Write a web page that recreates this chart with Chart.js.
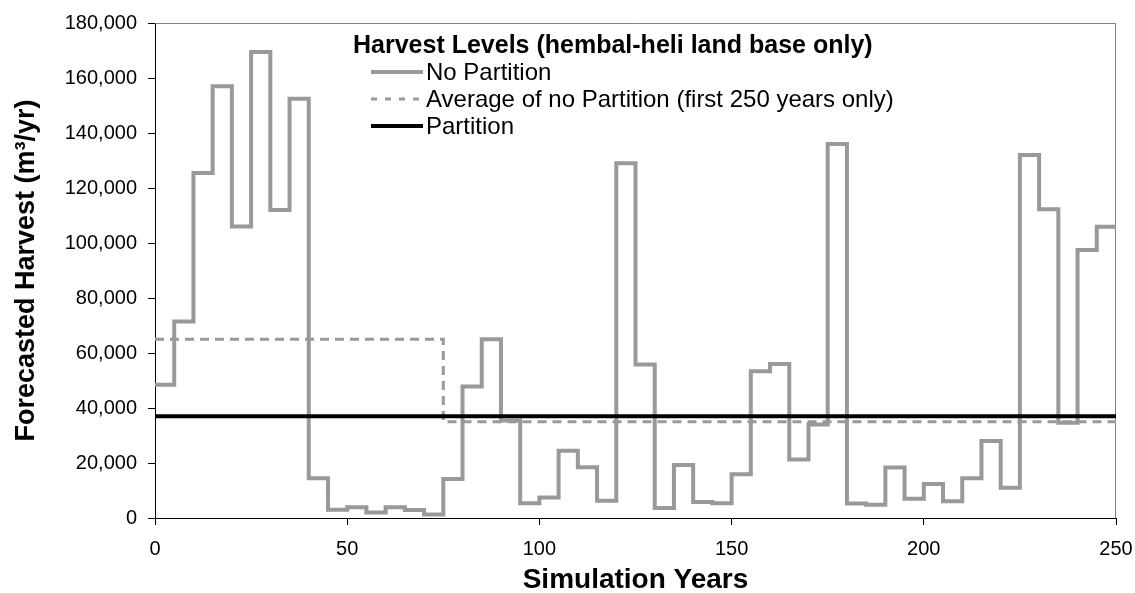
<!DOCTYPE html>
<html>
<head>
<meta charset="utf-8">
<script src="https://cdn.jsdelivr.net/npm/chart.js@4/dist/chart.umd.min.js"></script>
<style>
  html, body { margin: 0; padding: 0; background: #fff; }
  #wrap { position: relative; width: 1135px; height: 593px; font-family: "Liberation Sans", Arial, sans-serif; }
  #chart { position: absolute; left: 0; top: 0; }
  .lg { position: absolute; left: 0; top: 0; color: #000; white-space: nowrap; }
  .lg-title { position: absolute; left: 353px; top: 31px; font-size: 25px; font-weight: bold; line-height: 27px; }
  .lg-row { position: absolute; left: 371px; height: 26px; font-size: 24px; line-height: 26px; }
  .lg-row svg { position: absolute; left: 0; top: 10px; }
  .lg-row span { position: absolute; left: 55px; top: 0; }
</style>
</head>
<body>
<div id="wrap">
  <canvas id="chart" width="1135" height="593"></canvas>
  <div class="lg">
    <div class="lg-title">Harvest Levels (hembal-heli land base only)</div>
    <div class="lg-row" style="top:59px"><svg width="54" height="6"><line x1="0" y1="3" x2="52" y2="3" stroke="#999999" stroke-width="4"/></svg><span>No Partition</span></div>
    <div class="lg-row" style="top:86px"><svg width="54" height="6"><line x1="0" y1="3" x2="52" y2="3" stroke="#999999" stroke-width="3" stroke-dasharray="6,8"/></svg><span>Average of no Partition (first 250 years only)</span></div>
    <div class="lg-row" style="top:113px"><svg width="54" height="6"><line x1="0" y1="3" x2="52" y2="3" stroke="#000000" stroke-width="4"/></svg><span>Partition</span></div>
  </div>
</div>
<script>
// Harvest (m3/yr) per 5-year period (period start = 0, 5, ... 245)
const noPartition = [
  48500, 71500, 125500, 157000, 106000, 169500, 112000, 152500, 14500, 3000,
  3900, 2000, 3900, 2900, 1300, 14200, 47800, 65000, 35500, 5400,
  7500, 24500, 18500, 6300, 129000, 55800, 3600, 19300, 5800, 5400,
  15900, 53400, 56000, 21300, 34000, 136000, 5300, 4800, 18400, 7000,
  12400, 6100, 14500, 28000, 11000, 132000, 112300, 34600, 97500, 105900
];
const periodLength = 5;

// Average of no Partition: level changes at year 75
const avgYears = [0, 75, 250];
const avgValues = [65000, 35000, 35000];

// Partition: flat harvest level
const partYears = [0, 250];
const partValues = [37000, 37000];

const xTicks = [0, 50, 100, 150, 200, 250];
const yMax = 180000;
const yStep = 20000;

const FONT = '"Liberation Sans", Arial, sans-serif';
const GREY = '#999999';

// step points: each value holds until the next period, last one carried to year 250
const npPoints = noPartition.map((v, i) => ({ x: i * periodLength, y: v }));
npPoints.push({ x: noPartition.length * periodLength, y: noPartition[noPartition.length - 1] });
const avgPoints = avgYears.map((x, i) => ({ x, y: avgValues[i] }));
const partPoints = partYears.map((x, i) => ({ x, y: partValues[i] }));

// grey frame on top and right of the plot area (Excel style)
const plotFrame = {
  id: 'plotFrame',
  beforeDatasetsDraw(chart) {
    const { ctx, chartArea: a } = chart;
    ctx.save();
    ctx.strokeStyle = '#808080';
    ctx.lineWidth = 1;
    ctx.beginPath();
    ctx.moveTo(a.left, a.top + 0.5);
    ctx.lineTo(a.right - 0.5, a.top + 0.5);
    ctx.lineTo(a.right - 0.5, a.bottom);
    ctx.stroke();
    ctx.restore();
  }
};

new Chart(document.getElementById('chart'), {
  type: 'line',
  data: {
    datasets: [
      { label: 'No Partition', data: npPoints, stepped: 'before', borderColor: GREY, borderWidth: 4, pointRadius: 0, order: 3, borderJoinStyle: 'miter' },
      { label: 'Average of no Partition (first 250 years only)', data: avgPoints, stepped: 'before', borderColor: GREY, borderWidth: 3, borderDash: [9, 6], pointRadius: 0, order: 2 },
      { label: 'Partition', data: partPoints, borderColor: '#000000', borderWidth: 4, pointRadius: 0, order: 1 }
    ]
  },
  options: {
    responsive: false,
    animation: false,
    layout: { padding: { left: 0, right: 19, top: 21, bottom: 0 } },
    plugins: { legend: { display: false }, tooltip: { enabled: false } },
    scales: {
      x: {
        type: 'linear', min: 0, max: 250,
        afterBuildTicks: (s) => { s.ticks = xTicks.map((v) => ({ value: v })); },
        // fixed axis height; no extra side padding so the plot ends at year 250 = x 1116
        afterFit: (s) => { s.height = 75; s.paddingLeft = 0; s.paddingRight = 0; },
        grid: { display: true, drawOnChartArea: false, drawTicks: true, tickLength: 7, color: '#000' },
        border: { display: true, color: '#000', width: 1 },
        ticks: { color: '#000', font: { family: FONT, size: 20 }, padding: 12, maxRotation: 0 },
        title: { display: true, text: 'Simulation Years', color: '#000', font: { family: FONT, size: 28, weight: 'bold', lineHeight: 0.9 }, padding: { top: 0, bottom: 0 } }
      },
      y: {
        min: 0, max: yMax,
        afterFit: (s) => { s.width = 155; },
        grid: { display: true, drawOnChartArea: false, drawTicks: true, tickLength: 7, color: '#000' },
        border: { display: true, color: '#000', width: 1 },
        ticks: { stepSize: yStep, color: '#000', font: { family: FONT, size: 20 }, padding: 11, callback: (v) => v.toLocaleString('en-US') },
        title: { display: true, text: 'Forecasted Harvest (m³/yr)', color: '#000', font: { family: FONT, size: 27, weight: 'bold' }, padding: { top: 10, bottom: 0 } }
      }
    }
  },
  plugins: [plotFrame]
});
</script>
</body>
</html>
